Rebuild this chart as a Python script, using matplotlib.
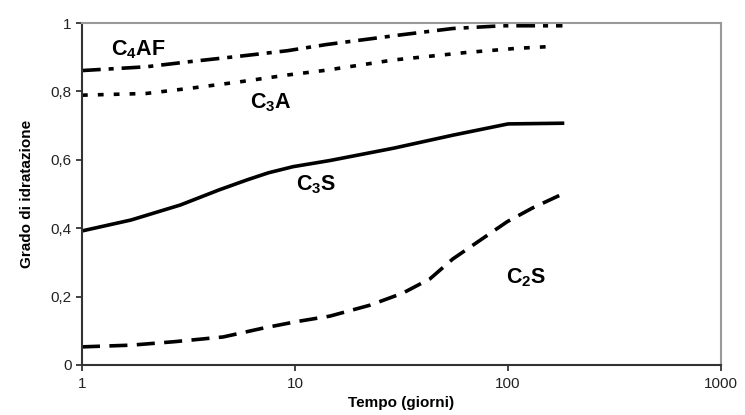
import matplotlib
matplotlib.use('Agg')
import matplotlib.pyplot as plt
from matplotlib.ticker import FixedLocator, NullLocator

plt.rcParams['font.family'] = ['Liberation Sans', 'DejaVu Sans']
plt.rcParams['mathtext.fontset'] = 'custom'
plt.rcParams['mathtext.rm'] = 'Liberation Sans'
plt.rcParams['mathtext.bf'] = 'Liberation Sans:bold'

# days / degree of hydration
c4af_t = [1, 2.0, 3.2, 5.5, 9.2, 14, 31, 55, 94, 180]
c4af_v = [0.861, 0.872, 0.887, 0.903, 0.919, 0.937, 0.965, 0.984, 0.992, 0.992]

c3a_t = [1, 2.0, 3.2, 5.5, 9.2, 14, 29, 64, 110, 155]
c3a_v = [0.789, 0.794, 0.809, 0.828, 0.848, 0.862, 0.892, 0.914, 0.926, 0.931]

c3s_t = [1, 1.7, 2.9, 4.4, 6.0, 7.5, 9.8, 14.6, 29, 55, 100, 180]
c3s_v = [0.392, 0.424, 0.468, 0.512, 0.542, 0.562, 0.580, 0.598, 0.634, 0.672, 0.705, 0.707]

c2s_t = [1, 1.7, 2.7, 4.6, 7.1, 10.2, 14.6, 22.5, 32, 43, 55, 74, 99, 130, 180]
c2s_v = [0.053, 0.058, 0.068, 0.082, 0.108, 0.127, 0.143, 0.175, 0.21, 0.252,
         0.31, 0.365, 0.419, 0.459, 0.50]

x_ticks = [1, 10, 100, 1000]
y_ticks = [0, 0.2, 0.4, 0.6, 0.8, 1.0]
y_labels = ['0', '0,2', '0,4', '0,6', '0,8', '1']

fig = plt.figure(figsize=(7.45, 4.15), dpi=100)
ax = fig.add_axes([0.110, 0.1205, 0.858, 0.824])

lw = 2.6
ax.plot(c4af_t, c4af_v, color='black', lw=lw, dashes=(5.2, 2.2, 1.4, 2.2))
ax.plot(c3a_t, c3a_v, color='black', lw=lw, dashes=(1.6, 2.8))
ax.plot(c3s_t, c3s_v, color='black', lw=lw)
ax.plot(c2s_t, c2s_v, color='black', lw=lw, dashes=(5, 2.6))

ax.set_xscale('log')
ax.set_xlim(1, 1000)
ax.set_ylim(0, 1)
ax.xaxis.set_major_locator(FixedLocator(x_ticks))
ax.xaxis.set_minor_locator(NullLocator())
ax.set_xticklabels([str(t) for t in x_ticks])
ax.set_yticks(y_ticks)
ax.set_yticklabels(y_labels)
ax.tick_params(labelsize=11, colors='#222222', length=4, width=1.2)
ax.tick_params(axis='x', pad=5)

for s in ['left', 'bottom']:
    ax.spines[s].set_color('#333333')
    ax.spines[s].set_linewidth(1.5)
for s in ['top', 'right']:
    ax.spines[s].set_color('#9a9a9a')
    ax.spines[s].set_linewidth(1.5)

ax.set_xlabel('Tempo (giorni)', fontsize=11, fontweight='bold', labelpad=3)
ax.set_ylabel('Grado di idratazione', fontsize=11, fontweight='bold', labelpad=12)

lab = dict(ha='center', va='center', fontsize=15.5, color='black')
ax.text(1.83, 0.921, r'$\mathbf{C_4AF}$', **lab)
ax.text(7.7, 0.766, r'$\mathbf{C_3A}$', **lab)
ax.text(12.6, 0.526, r'$\mathbf{C_3S}$', **lab)
ax.text(121, 0.254, r'$\mathbf{C_2S}$', **lab)

fig.savefig('out.png', dpi=100, facecolor='white')
